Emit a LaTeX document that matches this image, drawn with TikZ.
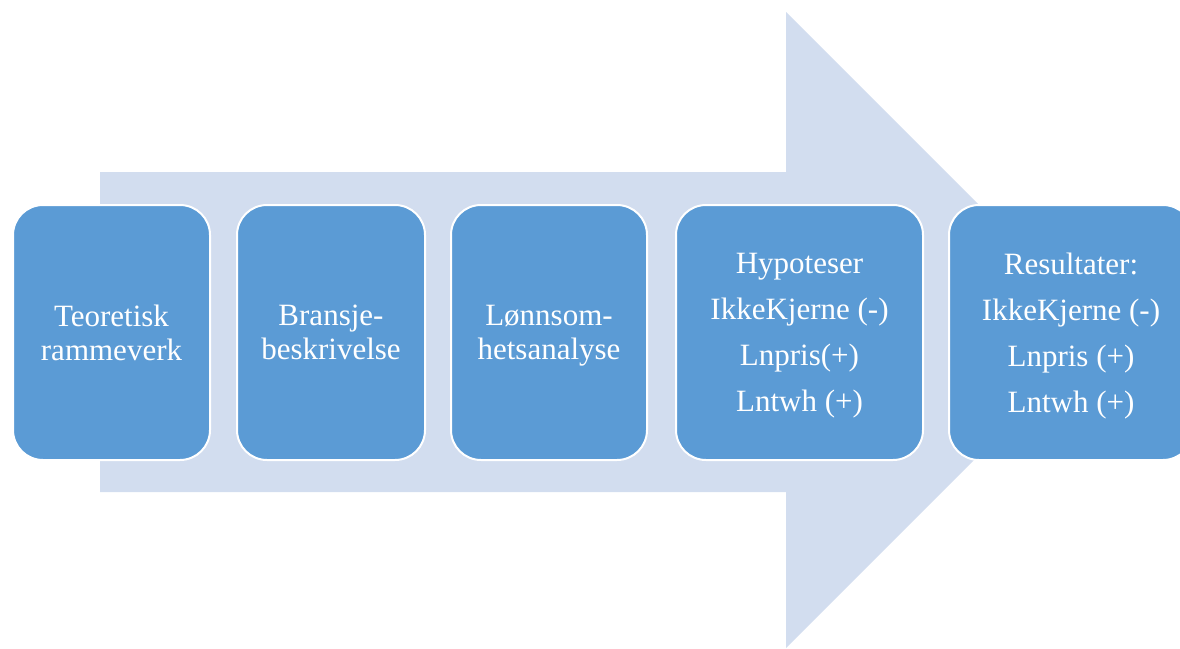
\documentclass[tikz,border=0pt]{standalone}
\usepackage{fontspec}
\setmainfont{Liberation Serif}
\usepackage{tikz}
\definecolor{boxblue}{HTML}{5B9BD5}
\definecolor{arrowblue}{HTML}{D2DDEF}
\tikzset{
  stepbox/.style={draw=white, line width=2pt, fill=boxblue, rounded corners=30pt,
    text=white, align=center, minimum height=255pt, inner sep=0pt, text depth=-2pt,
    font=\fontsize{31}{34}\selectfont},
}

\begin{document}
\begin{tikzpicture}[x=1pt,y=-1pt]
                    \useasboundingbox (0,0) rectangle (1180,648);
                    % big background arrow
                    \fill[arrowblue] (100,172) -- (786,172) -- (786,12) -- (1104,330)
                        -- (786,648) -- (786,492) -- (100,492) -- cycle;

                    \node[stepbox, minimum width=197pt] (teori) at (111.5,332.5) {Teoretisk\\rammeverk};
                    \node[stepbox, minimum width=188pt] (bransje) at (331,332.5) {Bransje-\\beskrivelse};
                    \node[stepbox, minimum width=196pt] (lonn) at (549,332.5) {Lønnsom-\\hetsanalyse};
                    \node[stepbox, minimum width=247pt] (hypo) at (799.5,332.5)
                        {Hypoteser\\[12pt]IkkeKjerne (-)\\[12pt]Lnpris(+)\\[12pt]Lntwh (+)};
                    \node[stepbox, minimum width=244pt] (resultat) at (1071,332.5)
                        {Resultater:\\[12pt]IkkeKjerne (-)\\[12pt]Lnpris (+)\\[12pt]Lntwh (+)};
                \end{tikzpicture}
\end{document}
